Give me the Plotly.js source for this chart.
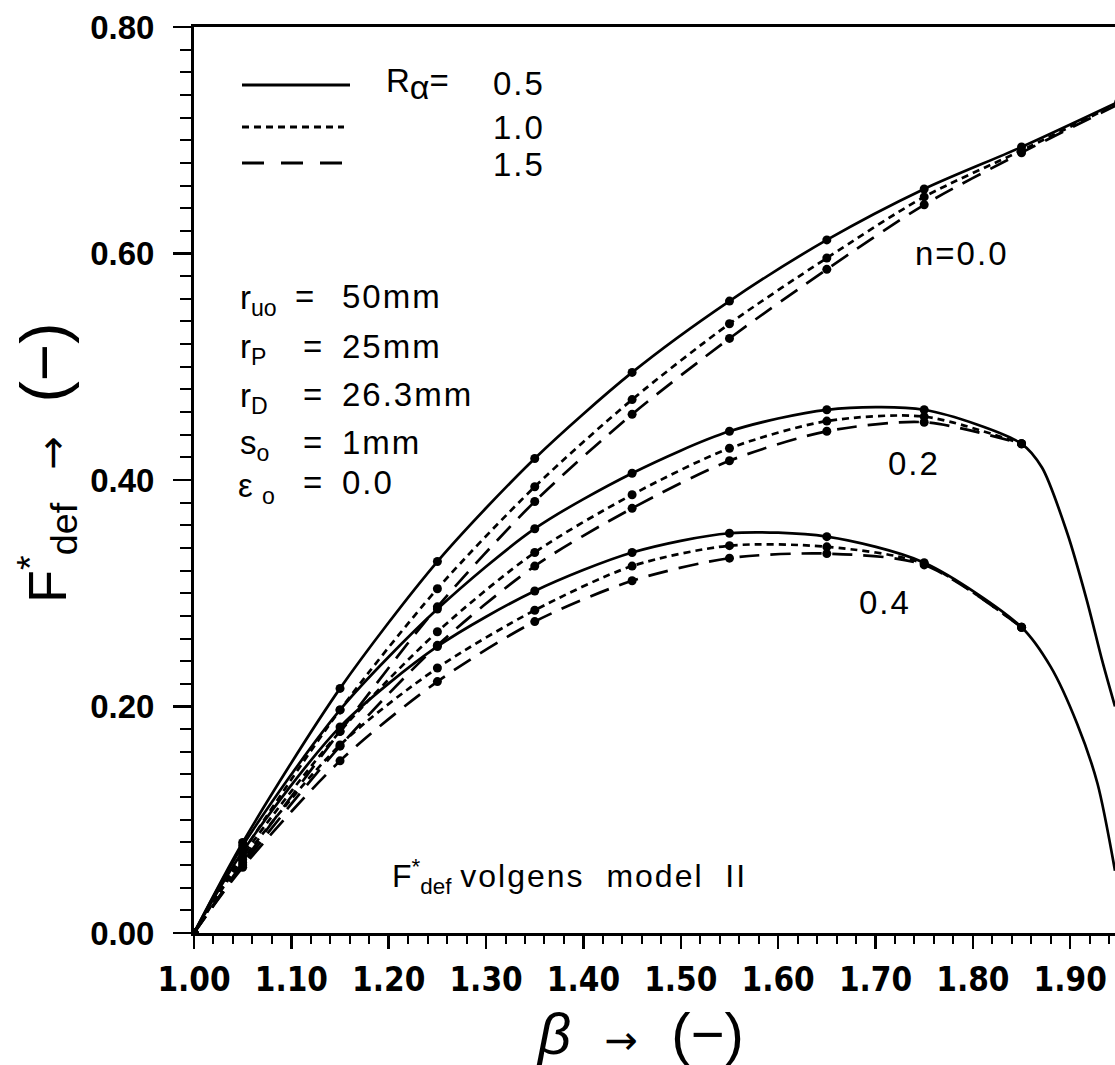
<!DOCTYPE html>
<html>
<head>
<meta charset="utf-8">
<script src="https://cdn.plot.ly/plotly-3.0.1.min.js"></script>
<style>
html,body{margin:0;padding:0;background:#fff;}
#chart{width:1115px;height:1065px;}
</style>
</head>
<body>
<div id="chart"></div>
<script>
// ---- data ----
const beta = [1.00, 1.05, 1.15, 1.25, 1.35, 1.45, 1.55, 1.65, 1.75, 1.85, 1.95];
const betaShort = [1.00, 1.05, 1.15, 1.25, 1.35, 1.45, 1.55, 1.65, 1.75, 1.85];

// n = 0.0
const n00_R05 = [0, 0.080, 0.216, 0.328, 0.419, 0.495, 0.558, 0.612, 0.657, 0.694, 0.734];
const n00_R10 = [0, 0.071, 0.197, 0.304, 0.394, 0.471, 0.538, 0.596, 0.650, 0.691, 0.733];
const n00_R15 = [0, 0.062, 0.178, 0.288, 0.381, 0.458, 0.525, 0.586, 0.643, 0.689, 0.732];

// n = 0.2
const n02_R05 = [0, 0.077, 0.197, 0.286, 0.357, 0.406, 0.443, 0.462, 0.462, 0.432];
const n02_R10 = [0, 0.068, 0.178, 0.266, 0.336, 0.387, 0.428, 0.452, 0.456, 0.432];
const n02_R15 = [0, 0.060, 0.165, 0.254, 0.324, 0.375, 0.417, 0.443, 0.451, 0.432];
const n02_tailBeta = [1.871, 1.897, 1.917, 1.933, 1.946];
const n02_tail = [0.411, 0.353, 0.294, 0.240, 0.200];

// n = 0.4
const n04_R05 = [0, 0.072, 0.182, 0.253, 0.302, 0.336, 0.353, 0.350, 0.327, 0.270];
const n04_R10 = [0, 0.065, 0.166, 0.234, 0.285, 0.324, 0.342, 0.341, 0.326, 0.270];
const n04_R15 = [0, 0.058, 0.152, 0.222, 0.275, 0.311, 0.331, 0.335, 0.325, 0.270];
const n04_tailBeta = [1.880, 1.907, 1.928, 1.946];
const n04_tail = [0.235, 0.185, 0.132, 0.055];

const xTicks = [1.00, 1.10, 1.20, 1.30, 1.40, 1.50, 1.60, 1.70, 1.80, 1.90];
const yTicks = [0.00, 0.20, 0.40, 0.60, 0.80];

// ---- styles ----
const DASH = {solid: 'solid', R10: '7px,5px', R15: '20px,11px'};
const LW = 2.7;
const MS = 9;

function series(xs, ys, dash, tailX, tailY) {
  const x = xs.slice(0, ys.length).concat(tailX || []);
  const y = ys.concat(tailY || []);
  const sizes = ys.map(() => MS).concat((tailY || []).map(() => 0));
  return {
    x: x, y: y, type: 'scatter', mode: 'lines+markers',
    line: {color: '#000', width: LW, dash: dash, shape: 'spline', smoothing: 0.8},
    marker: {color: '#000', size: sizes, symbol: 'circle', opacity: 1, line: {width: 0}},
    showlegend: false, hoverinfo: 'skip', cliponaxis: true
  };
}

const traces = [
  series(beta, n00_R15, DASH.R15),
  series(beta, n00_R10, DASH.R10),
  series(beta, n00_R05, DASH.solid),
  series(betaShort, n02_R15, DASH.R15),
  series(betaShort, n02_R10, DASH.R10),
  series(betaShort, n02_R05, DASH.solid, n02_tailBeta, n02_tail),
  series(betaShort, n04_R15, DASH.R15),
  series(betaShort, n04_R10, DASH.R10),
  series(betaShort, n04_R05, DASH.solid, n04_tailBeta, n04_tail)
];

// pixel helpers for text placement (plot area: left 194, top 27, right 1115, bottom 933)
const L = 194, T = 27, R = 1115, B = 933;
const px = v => (v - L) / (R - L);
const py = v => (B - v) / (B - T);

const FONT = 'Liberation Sans, Arial, Helvetica, sans-serif';
const NB = '\u00a0';
const SP = s => '<span style="letter-spacing:2px">' + s + '</span>';
function ann(text, x, y, size, xanchor, extra) {
  return Object.assign({
    text: text, xref: 'paper', yref: 'paper', x: px(x), y: py(y),
    xanchor: xanchor || 'left', yanchor: 'middle', showarrow: false,
    font: {family: FONT, size: size || 34, color: '#000'}
  }, extra || {});
}

const FS = 33;
const ARROW = '<span style="font-family:DejaVu Sans;font-size:40px">→</span>';
const GAP = NB + NB + NB;
const annotations = [
  ann('R<sub><span style="font-size:34px">α</span></sub>=', 384, 84, FS, 'left'),
  ann(SP('0.5'), 547, 84, FS, 'right'),
  ann(SP('1.0'), 547, 127, FS, 'right'),
  ann(SP('1.5'), 547, 164, FS, 'right'),

  ann('r<sub>uo</sub>', 238, 300, FS, 'left'),
  ann('=', 304, 297, FS, 'center'),
  ann(SP('50mm'), 340, 297, FS, 'left'),
  ann('r<sub>P</sub>', 238, 349, FS, 'left'),
  ann('=', 312, 346, FS, 'center'),
  ann(SP('25mm'), 340, 346, FS, 'left'),
  ann('r<sub>D</sub>', 238, 398, FS, 'left'),
  ann('=', 312, 395, FS, 'center'),
  ann(SP('26.3mm'), 340, 395, FS, 'left'),
  ann('s<sub>o</sub>', 238, 445, FS, 'left'),
  ann('=', 312, 442, FS, 'center'),
  ann(SP('1mm'), 340, 442, FS, 'left'),
  ann('ε' + NB + '<sub>o</sub>', 236, 488, FS, 'left'),
  ann('=', 312, 482, FS, 'center'),
  ann(SP('0.0'), 340, 482, FS, 'left'),

  ann(SP('n=0.0'), 962, 253, FS, 'center'),
  ann(SP('0.2'), 914, 463, FS, 'center'),
  ann(SP('0.4'), 885, 602, FS, 'center'),

  ann('F<sup>*</sup><sub>def</sub>' + NB + SP('volgens' + NB + NB + 'model' + NB + NB + 'II'), 390, 876, 32, 'left'),

  // axis titles
  ann('<i><span style="font-size:58px">β</span></i>' + GAP + ARROW + GAP + '<span style="font-size:58px">(−)</span>',
      640, 1033, 40, 'center'),
  ann('<span style="font-size:54px">F<sup>*</sup><sub>def</sub></span>' + GAP + ARROW + GAP + '<span style="font-size:64px">(−)</span>',
      46, 463, 40, 'center', {textangle: -90})
];

// legend sample lines (paper coords)
function legLine(x0, x1, y, dash) {
  return {type: 'line', xref: 'paper', yref: 'paper', x0: px(x0), x1: px(x1), y0: py(y), y1: py(y),
          line: {color: '#000', width: 3, dash: dash}};
}
const shapes = [
  legLine(242, 350, 85, 'solid'),
  legLine(242, 344, 127, '7px,5px'),
  legLine(242, 350, 163, '22px,17px')
];

const layout = {
  width: 1115, height: 1065,
  margin: {l: L, r: 1115 - R, t: T, b: 1065 - B, pad: 0},
  paper_bgcolor: '#fff', plot_bgcolor: '#fff',
  showlegend: false,
  xaxis: {
    range: [1.0, 1.946], tickmode: 'array', tickvals: xTicks,
    ticktext: xTicks.map(v => v.toFixed(2)),
    ticks: 'outside', ticklen: 13, tickwidth: 2.5, tickcolor: '#000',
    minor: {dtick: 0.02, tick0: 1.0, ticks: 'outside', ticklen: 8, tickwidth: 2, tickcolor: '#000', showgrid: false},
    showline: true, linewidth: 3, linecolor: '#000', mirror: true,
    showgrid: false, zeroline: false,
    ticklabelstandoff: 2,
    tickfont: {family: 'Liberation Sans Narrow, DejaVu Sans Condensed, sans-serif', size: 33, color: '#000', weight: 'bold'},
    fixedrange: true
  },
  yaxis: {
    range: [0, 0.8], tickmode: 'array', tickvals: yTicks,
    ticktext: yTicks.map(v => v.toFixed(2)),
    ticks: 'outside', ticklen: 18, tickwidth: 2.5, tickcolor: '#000',
    minor: {dtick: 0.02, tick0: 0, ticks: 'outside', ticklen: 11, tickwidth: 2, tickcolor: '#000', showgrid: false},
    showline: true, linewidth: 3, linecolor: '#000',
    showgrid: false, zeroline: false,
    ticklabelstandoff: 12,
    tickfont: {family: FONT, size: 33, color: '#000', weight: 'bold'},
    fixedrange: true
  },
  annotations: annotations,
  shapes: shapes
};

Plotly.newPlot('chart', traces, layout, {staticPlot: true, displayModeBar: false});
</script>
</body>
</html>
